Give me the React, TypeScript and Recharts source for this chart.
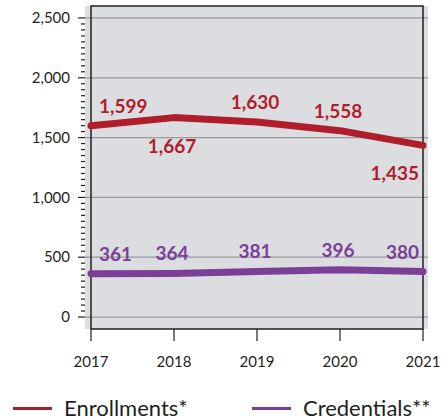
import { LineChart, Line, XAxis, YAxis, CartesianGrid, ReferenceArea, LabelList } from 'recharts'

const YEARS = ['2017', '2018', '2019', '2020', '2021']
const ENROLLMENTS = [1599, 1667, 1630, 1558, 1435]
const CREDENTIALS = [361, 364, 381, 396, 380]
const Y_TICKS = [0, 500, 1000, 1500, 2000, 2500]

const RED = '#b01e2c'
const PURPLE = '#7b3f98'
const INK = '#231f20'
const FONT = 'Lato, "Open Sans", sans-serif'

// minor ticks every 50, majors come from Y_TICKS
const MINOR_TICKS = Array.from({ length: 51 }, (_, i) => i * 50)

const chartData = YEARS.map((year, i) => ({
  year,
  enrollments: ENROLLMENTS[i],
  credentials: CREDENTIALS[i],
}))

const fmt = (v: number) => v.toLocaleString('en-US')

function YTick(props: any) {
  const { x, y, payload } = props
  const major = Y_TICKS.includes(payload.value)
  // text x sits tickSize + tickMargin left of the axis line
  const axisX = x + 15
  return (
    <g>
      <line x1={axisX - (major ? 7 : 4)} x2={axisX} y1={y} y2={y} stroke={INK} strokeWidth={1.2} />
      {major && (
        <text x={x} y={y} dy="0.35em" textAnchor="end" fill={INK} fontSize={15} fontFamily={FONT}>
          {fmt(payload.value)}
        </text>
      )}
    </g>
  )
}

function GridLine(props: any) {
  const { x1, x2, y1, index } = props
  if (index % 10 !== 0) return <g key={props.key} />
  return <line key={props.key} x1={x1} x2={x2} y1={y1} y2={y1} stroke="#9a9a9c" strokeWidth={1.2} />
}

function makeLabel(color: string, below: number[]) {
  return (props: any) => {
    const vb = props.viewBox ?? {}
    const x = vb.x ?? props.x
    const y = vb.y ?? props.y
    const index = props.index
    const last = YEARS.length - 1
    const anchor = index === 0 ? 'start' : index === last ? 'end' : 'middle'
    const dx = index === 0 ? 8 : index === last ? -4 : -2
    const dy = below.includes(index) ? 35 : -13
    return (
      <text
        x={x + dx}
        y={y + dy}
        textAnchor={anchor}
        fill={color}
        fontSize={19}
        fontWeight={700}
        fontFamily={FONT}
      >
        {fmt(props.value)}
      </text>
    )
  }
}

function LegendItem({ color, label, left }: { color: string; label: string; left: number }) {
  return (
    <div style={{ position: 'absolute', left, top: 395, display: 'flex', alignItems: 'center' }}>
      <div style={{ width: 39, height: 3, background: color, marginRight: 12 }} />
      <span style={{ fontFamily: FONT, fontSize: 22, color: INK, lineHeight: '26px' }}>{label}</span>
    </div>
  )
}

export default function App() {
  return (
    <div style={{ position: 'absolute', left: 0, top: 0, width: 448, height: 420, background: '#fff' }}>
      <LineChart width={448} height={390} data={chartData} margin={{ top: 6, right: 20, left: 0, bottom: 0 }}>
        <CartesianGrid vertical={false} horizontal={GridLine} fill="#dcdde0" />
        <XAxis
          dataKey="year"
          padding={{ left: 6, right: 5 }}
          height={61}
          axisLine={false}
          tickSize={12}
          tickMargin={15}
          tickLine={{ stroke: INK, strokeWidth: 1.2 }}
          tick={{ fill: INK, fontSize: 15, fontFamily: FONT }}
        />
        <YAxis
          width={85}
          domain={[-100, 2600]}
          ticks={MINOR_TICKS}
          interval={0}
          axisLine={false}
          tickLine={false}
          tickSize={7}
          tickMargin={8}
          tick={<YTick />}
        />
        <ReferenceArea y1={-100} y2={2600} fill="none" stroke={INK} strokeWidth={1.5} ifOverflow="visible" />
        <Line
          dataKey="enrollments"
          stroke={RED}
          strokeWidth={7}
          strokeLinecap="round"
          strokeLinejoin="round"
          dot={false}
          isAnimationActive={false}
        >
          <LabelList dataKey="enrollments" content={makeLabel(RED, [1, 4])} />
        </Line>
        <Line
          dataKey="credentials"
          stroke={PURPLE}
          strokeWidth={7}
          strokeLinecap="round"
          strokeLinejoin="round"
          dot={false}
          isAnimationActive={false}
        >
          <LabelList dataKey="credentials" content={makeLabel(PURPLE, [])} />
        </Line>
      </LineChart>
      <LegendItem color={RED} label="Enrollments*" left={13} />
      <LegendItem color={PURPLE} label="Credentials**" left={252} />
    </div>
  )
}
